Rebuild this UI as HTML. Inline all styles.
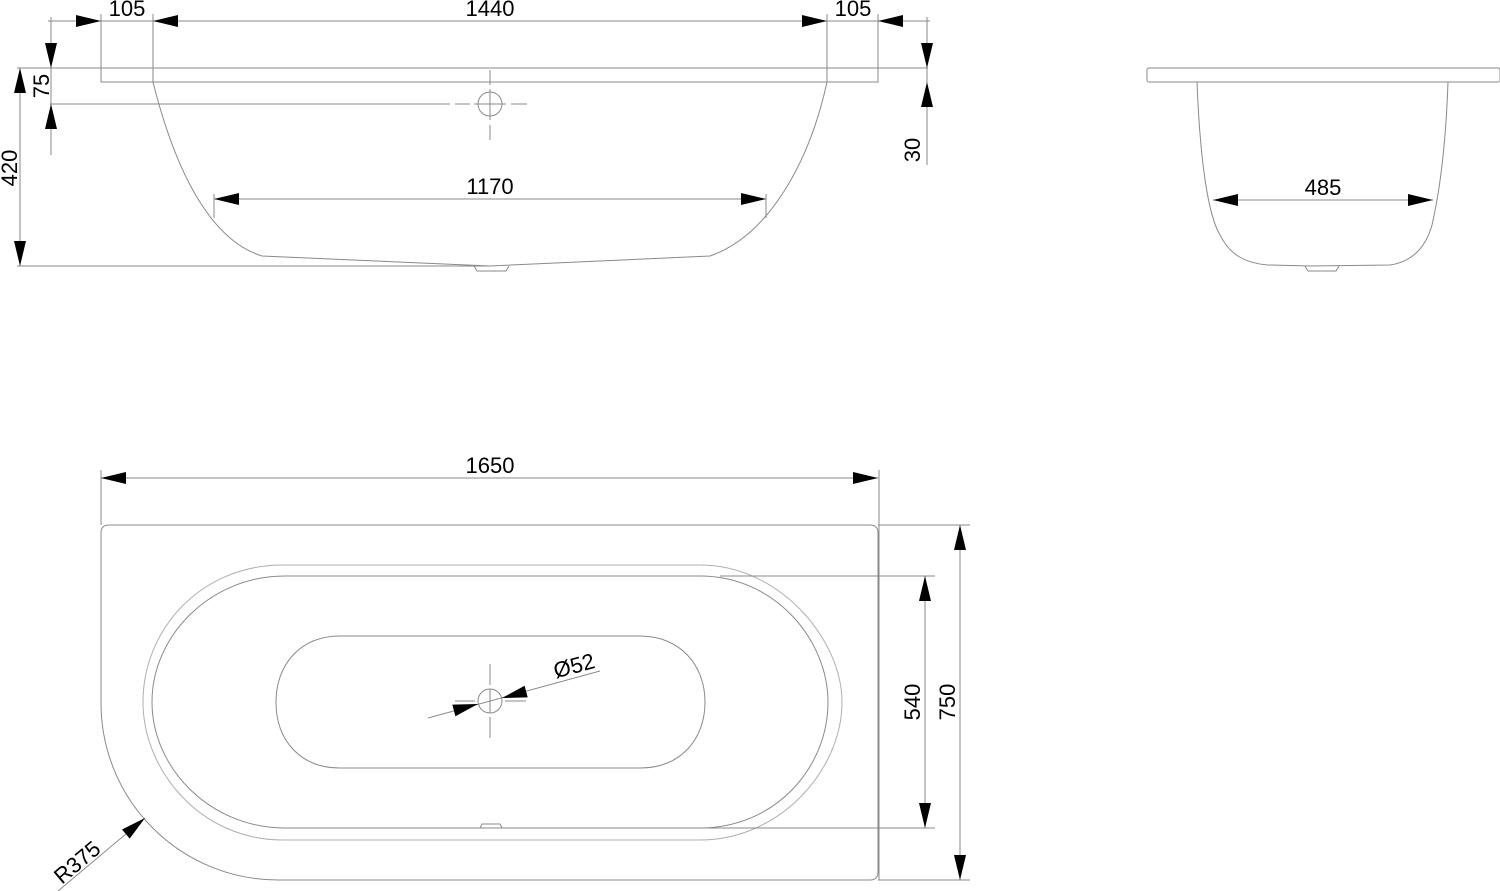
<!DOCTYPE html>
<html><head><meta charset="utf-8"><style>
html,body{margin:0;padding:0;background:#fff}
svg{display:block}
text{font-family:"Liberation Sans",sans-serif;font-size:22px;fill:#000}
</style></head><body>
<svg width="1500" height="891" viewBox="0 0 1500 891" xmlns="http://www.w3.org/2000/svg">
<defs><polygon id="a" points="0,0 -25,-6 -25,6" fill="#000"/></defs>
<g stroke="#8a8a8a" stroke-width="1" fill="none">
<!-- TOP VIEW -->
<line x1="48" y1="21" x2="930" y2="21"/>
<line x1="101" y1="14" x2="101" y2="82"/>
<line x1="153" y1="14" x2="153" y2="82"/>
<line x1="827" y1="14" x2="827" y2="82"/>
<line x1="878" y1="14" x2="878" y2="82"/>
<line x1="17" y1="68" x2="928" y2="68"/>
<polyline points="101,68 101,82 878,82 878,68"/>
<path d="M153,82 C175,170 210,240 262,256 L490,266 L710,256 C770,235 810,160 827,82"/>
<path d="M474,266 L477,271 L506,271 L509,266"/>
<circle cx="490" cy="104" r="12"/>
<line x1="50" y1="104" x2="450" y2="104"/>
<line x1="455" y1="104" x2="470" y2="104"/><line x1="474" y1="104" x2="506" y2="104"/><line x1="511" y1="104" x2="527" y2="104"/>
<line x1="490" y1="70" x2="490" y2="85"/><line x1="490" y1="89" x2="490" y2="120"/><line x1="490" y1="125" x2="490" y2="140"/>
<line x1="51" y1="17" x2="51" y2="155"/>
<line x1="20" y1="68" x2="20" y2="266"/>
<line x1="17" y1="266" x2="490" y2="266"/>
<line x1="927" y1="17" x2="927" y2="165"/>
<line x1="214" y1="199" x2="766" y2="199"/>
<line x1="214" y1="194" x2="214" y2="218"/>
<line x1="766" y1="194" x2="766" y2="218"/>
<!-- SIDE VIEW -->
<rect x="1147" y="68" width="353" height="14" rx="2"/>
<path d="M1197,82 C1200,160 1208,215 1220,235 C1230,255 1245,263 1268,265 L1310,266 L1390,265 C1410,262 1425,250 1432,225 C1440,190 1446,140 1448,82"/>
<path d="M1305,266 L1308,271 L1336,271 L1339,266"/>
<line x1="1213" y1="200" x2="1433" y2="200"/>
<!-- PLAN VIEW -->
<line x1="101" y1="478" x2="878" y2="478"/>
<line x1="101" y1="470" x2="101" y2="525"/>
<line x1="879" y1="470" x2="879" y2="880"/>
<path d="M101,703 L101,533 Q101,525 109,525 L870,525 Q878,525 878,533 L878,872 Q878,880 870,880 L278,880 A177,177 0 0 1 101,703 Z"/>
<path d="M283,565 L700,565 C780,565 842,640 842,702 C842,770 780,840 700,840 L283,840 C200,840 143,770 143,702 C143,630 200,565 283,565 Z" stroke="#b0b0b0"/>
<path d="M285,576 L700,576 C775,576 828,640 828,702 C828,768 775,828 700,828 L285,828 C210,828 152,768 152,702 C152,636 210,576 285,576 Z"/>
<path d="M340,636 L640,636 C680,636 705,665 705,702 C705,740 680,768 640,768 L340,768 C300,768 276,740 276,702 C276,665 300,636 340,636 Z"/>
<circle cx="490" cy="701" r="12"/>
<line x1="490" y1="664" x2="490" y2="685"/><line x1="490" y1="689" x2="490" y2="713"/><line x1="490" y1="717" x2="490" y2="738"/>
<line x1="455" y1="701" x2="475" y2="701"/><line x1="505" y1="701" x2="526" y2="701"/>
<path d="M480,828 L482,824 L500,824 L502,828"/>
<line x1="428" y1="718" x2="600" y2="671"/>
<line x1="720" y1="576" x2="935" y2="576"/>
<line x1="500" y1="828" x2="935" y2="828"/>
<line x1="925" y1="576" x2="925" y2="828"/>
<line x1="878" y1="525" x2="970" y2="525"/>
<line x1="878" y1="880" x2="970" y2="880"/>
<line x1="960" y1="525" x2="960" y2="880"/>
<line x1="58" y1="891" x2="145" y2="818"/>
</g>
<g>
<use href="#a" transform="translate(101,21)"/>
<use href="#a" transform="translate(153,21) rotate(180)"/>
<use href="#a" transform="translate(827,21)"/>
<use href="#a" transform="translate(878,21) rotate(180)"/>
<use href="#a" transform="translate(51,68) rotate(90)"/>
<use href="#a" transform="translate(51,104) rotate(-90)"/>
<use href="#a" transform="translate(20,68) rotate(-90)"/>
<use href="#a" transform="translate(20,266) rotate(90)"/>
<use href="#a" transform="translate(927,68) rotate(90)"/>
<use href="#a" transform="translate(927,82) rotate(-90)"/>
<use href="#a" transform="translate(214,199) rotate(180)"/>
<use href="#a" transform="translate(766,199)"/>
<use href="#a" transform="translate(1213,200) rotate(180)"/>
<use href="#a" transform="translate(1433,200)"/>
<use href="#a" transform="translate(101,478) rotate(180)"/>
<use href="#a" transform="translate(878,478)"/>
<use href="#a" transform="translate(925,576) rotate(-90)"/>
<use href="#a" transform="translate(925,828) rotate(90)"/>
<use href="#a" transform="translate(960,525) rotate(-90)"/>
<use href="#a" transform="translate(960,880) rotate(90)"/>
<use href="#a" transform="translate(478,704) rotate(-15)"/>
<use href="#a" transform="translate(502,698) rotate(165)"/>
<use href="#a" transform="translate(145,818) rotate(-40)"/>
</g>
<text x="127" y="16" text-anchor="middle">105</text>
<text x="490" y="16" text-anchor="middle">1440</text>
<text x="853" y="16" text-anchor="middle">105</text>
<text x="490" y="194" text-anchor="middle">1170</text>
<text x="1323" y="195" text-anchor="middle">485</text>
<text x="490" y="473" text-anchor="middle">1650</text>
<text transform="translate(49,86) rotate(-90)" text-anchor="middle">75</text>
<text transform="translate(17,168) rotate(-90)" text-anchor="middle">420</text>
<text transform="translate(920,150) rotate(-90)" text-anchor="middle">30</text>
<text transform="translate(920,702) rotate(-90)" text-anchor="middle">540</text>
<text transform="translate(955,702) rotate(-90)" text-anchor="middle">750</text>
<text transform="translate(576,673) rotate(-15)" text-anchor="middle">Ø52</text>
<text transform="translate(82,868) rotate(-40)" text-anchor="middle">R375</text>
</svg>
</body></html>
